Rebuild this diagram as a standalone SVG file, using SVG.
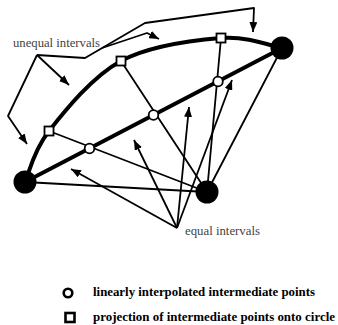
<svg xmlns="http://www.w3.org/2000/svg" width="338" height="325" viewBox="0 0 338 325">
  <style>
    .thick { fill: none; stroke: #000; stroke-width: 4; stroke-linecap: round; stroke-linejoin: round; }
    .thin { fill: none; stroke: #000; stroke-width: 1.8; stroke-linecap: round; stroke-linejoin: round; }
    .lead { fill: none; stroke: #000; stroke-width: 1.8; stroke-linejoin: round; }
    .arr { marker-end: url(#head); }
    .end { fill: #000; }
    .mid { fill: #fff; stroke: #000; stroke-width: 1.8; }
    .label { font-family: "Liberation Serif", "Times New Roman", serif; font-size: 12.8px; fill: #444; }
    .legend { font-family: "Liberation Serif", "Times New Roman", serif; font-size: 12.8px; font-weight: bold; fill: #000; }
    .key { fill: #fff; stroke: #000; stroke-width: 2.6; }
  </style>
  <defs>
    <marker id="head" viewBox="0 0 10 8" refX="10" refY="4" markerWidth="10" markerHeight="8" markerUnits="userSpaceOnUse" orient="auto">
      <path d="M0,0 L10,4 L0,8 z" fill="#000"/>
    </marker>
  </defs>

  <!-- construction lines -->
  <g id="connectors">
    <!-- arc through the projected points -->
    <path class="thick" d="M25,182 C29,173.5 33,151.2 49,131 C65,110.8 92.3,76.5 121,61 C149.7,45.5 194.2,40.2 221,38 C247.8,35.8 271.8,46.3 282,48"/>
    <!-- straight chord -->
    <path class="thick" d="M25,182 L282,48"/>
    <!-- projection rays from the centre -->
    <path class="thin" d="M207,192 L49,131"/>
    <path class="thin" d="M207,192 L121,61"/>
    <path class="thin" d="M207,192 L221,38"/>
    <path class="thin" d="M207,192 L282,48"/>
    <path class="thin" d="M207,192 L25,182"/>
  </g>

  <!-- leaders: unequal intervals -->
  <g id="unequal-leaders">
    <path class="lead arr" d="M37,55 L69,85"/>
    <path class="lead arr" d="M37,55 L8,116 L27,144"/>
    <path class="lead arr" d="M37,55 L85,58 L145,23 L254,8 L253,32"/>
    <path class="lead arr" d="M102,48 L147,33 L159,39"/>
  </g>

  <!-- leaders: equal intervals -->
  <g id="equal-leaders">
    <path class="lead arr" d="M177,228 L71,169"/>
    <path class="lead arr" d="M177,228 L134,140"/>
    <path class="lead arr" d="M177,228 L189,107"/>
    <path class="lead arr" d="M177,228 L232,80"/>
  </g>

  <!-- end points -->
  <g id="end-left"><circle class="end" cx="25" cy="182" r="11.5"/></g>
  <g id="end-centre"><circle class="end" cx="207" cy="192" r="11.5"/></g>
  <g id="end-right"><circle class="end" cx="282" cy="48" r="11.5"/></g>

  <!-- linearly interpolated points -->
  <g id="lin-1"><circle class="mid" cx="89.5" cy="148.5" r="4.8"/></g>
  <g id="lin-2"><circle class="mid" cx="153.5" cy="115" r="4.8"/></g>
  <g id="lin-3"><circle class="mid" cx="218" cy="81.5" r="4.8"/></g>

  <!-- projected points -->
  <g id="proj-1"><rect class="mid" x="44.5" y="126.5" width="9" height="9"/></g>
  <g id="proj-2"><rect class="mid" x="116.5" y="56.5" width="9" height="9"/></g>
  <g id="proj-3"><rect class="mid" x="216.5" y="33.5" width="9" height="9"/></g>

  <!-- labels -->
  <g id="label-unequal"><text class="label" x="13" y="47" textLength="87" lengthAdjust="spacingAndGlyphs">unequal intervals</text></g>
  <g id="label-equal"><text class="label" x="185" y="235" textLength="75" lengthAdjust="spacingAndGlyphs">equal intervals</text></g>

  <!-- legend -->
  <g id="legend-circle">
    <circle class="key" cx="68" cy="293" r="4.3"/>
    <text class="legend" x="93" y="296" textLength="222" lengthAdjust="spacingAndGlyphs">linearly interpolated intermediate points</text>
  </g>
  <g id="legend-square">
    <rect class="key" x="65.5" y="313" width="9" height="9"/>
    <text class="legend" x="93" y="321" textLength="242" lengthAdjust="spacingAndGlyphs">projection of intermediate points onto circle</text>
  </g>
</svg>
